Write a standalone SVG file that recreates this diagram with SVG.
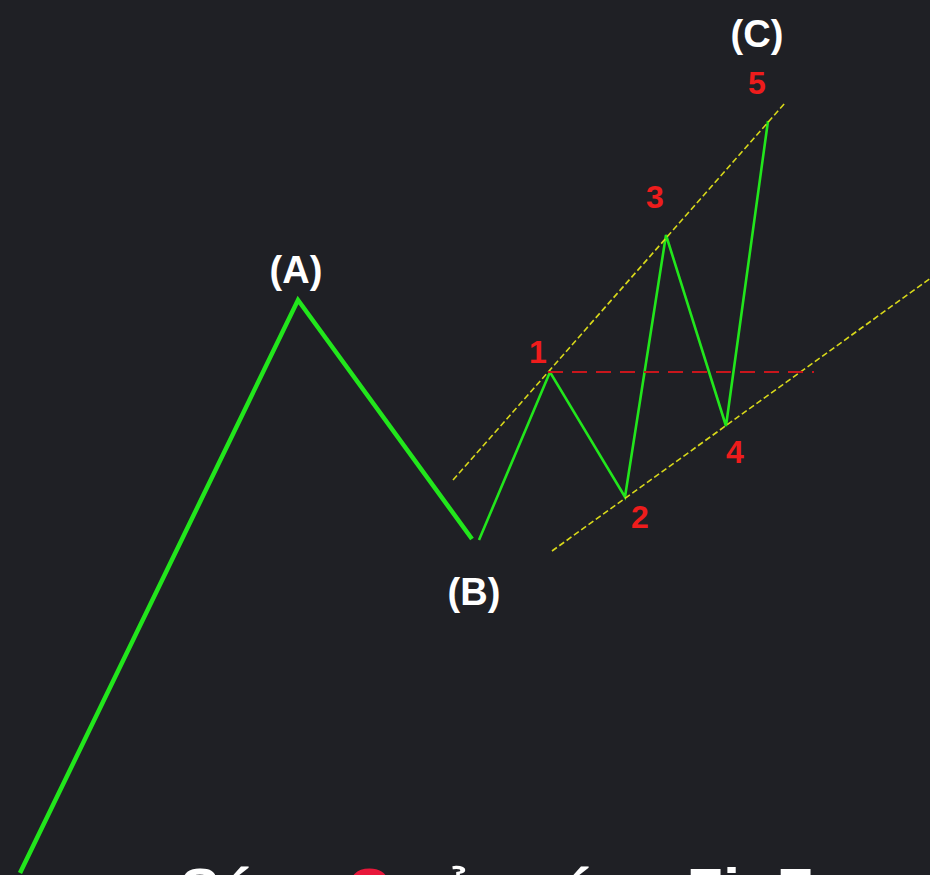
<svg xmlns="http://www.w3.org/2000/svg" width="930" height="875" viewBox="0 0 930 875">
<style>
.bg{fill:#1f2025}
.wave{fill:none;stroke:#22e61c;stroke-linejoin:miter;stroke-linecap:butt}
.main{stroke-width:4.5}
.sub{stroke-width:2.6}
.chan{fill:none;stroke:#d8d81a;stroke-width:1.6;stroke-dasharray:6 3}
.lvl{fill:none;stroke:#c8161c;stroke-width:2;stroke-dasharray:15 9}
.big{font-family:"Liberation Sans",Arial,sans-serif;font-weight:bold;font-size:38px;fill:#ffffff;text-anchor:middle}
.num{font-family:"Liberation Sans",Arial,sans-serif;font-weight:bold;font-size:32px;fill:#ee1c1c;text-anchor:middle}
.title{font-family:"Liberation Sans",Arial,sans-serif;font-weight:bold;font-size:60px;fill:#ffffff}
</style>
<rect class="bg" x="0" y="0" width="930" height="875"/>
<g id="connectors">
<polyline class="wave main" points="20,873 298,300 472,539"/>
<polyline class="wave sub" points="479,540 550,372 625,497 666,235 726,426 768,121"/>
<line class="chan" x1="453" y1="480" x2="785" y2="103"/>
<line class="chan" x1="552" y1="551" x2="935" y2="275"/>
<line class="lvl" x1="548" y1="372" x2="814" y2="372"/>
</g>
<g id="label-A"><text class="big" x="296" y="283">(A)</text></g>
<g id="label-B"><text class="big" x="474" y="605">(B)</text></g>
<g id="label-C"><text class="big" x="757" y="47">(C)</text></g>
<g id="wave-1"><text class="num" x="538" y="363">1</text></g>
<g id="wave-2"><text class="num" x="640" y="528">2</text></g>
<g id="wave-3"><text class="num" x="655" y="208">3</text></g>
<g id="wave-4"><text class="num" x="735" y="463">4</text></g>
<g id="wave-5"><text class="num" x="757" y="94">5</text></g>
<g id="title"><text class="title" x="180" y="910">Sóng <tspan fill="#e8173a">C</tspan> của sóng ZigZag</text></g>
</svg>
